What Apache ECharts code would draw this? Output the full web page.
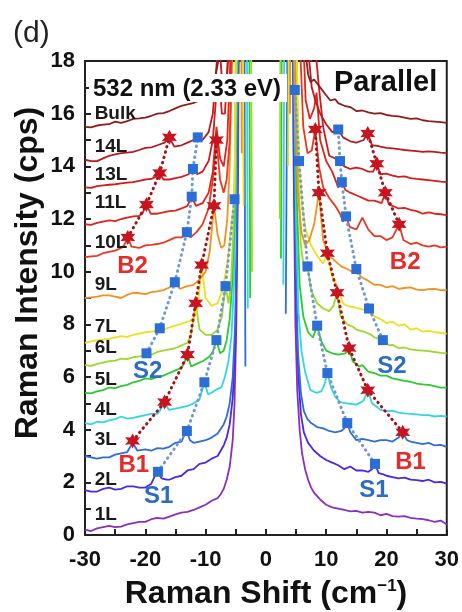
<!DOCTYPE html>
<html>
<head>
<meta charset="utf-8">
<title>Raman spectra, parallel</title>
<script src="https://cdn.jsdelivr.net/npm/echarts@6.0.0/dist/echarts.min.js"></script>
<style>
  html, body { margin: 0; padding: 0; background: #fff; }
  #chart { width: 462px; height: 612px; }
</style>
</head>
<body>
<div id="chart"></div>
<script>
// ---- data: [Raman shift (cm-1), intensity (cps)] ----
const layerNames = ['1L', '2L', '3L', '4L', '5L', '6L', '7L', '9L', '10L', '11L', '13L', '14L', 'Bulk'];
const layerLabelX = -28.4;
const layerLabelY = [0.76, 2.1, 3.6, 4.75, 5.9, 7.1, 7.9, 9.5, 11.1, 12.6, 13.67, 14.75, 16.0];

const c1L_l = [[-30,0.2],[-29,0.15],[-28,0.25],[-27,0.3],[-26,0.35],[-25,0.3],[-24,0.32],[-23,0.4],[-22,0.45],[-21,0.5],[-20,0.5],[-19,0.6],[-18,0.65],[-17,0.62],[-16,0.7],[-15,0.78],[-14,0.85],[-13,0.88],[-12,0.95],[-11,1.05],[-10,1.15],[-9,1.3],[-8,1.4],[-7.5,1.55],[-7,1.75],[-6.5,2.1],[-6,2.6],[-5.5,3.6],[-5.2,5],[-4.9,8],[-4.6,14],[-4.3,30]];
const c1L_r = [[4.3,30],[4.6,14],[4.9,8],[5.2,5.5],[5.6,4],[6,3.1],[6.5,2.5],[7,2.1],[7.5,1.8],[8,1.6],[9,1.35],[10,1.15],[11,1.05],[12,1.0],[13,0.95],[14,0.9],[15,0.92],[16,0.85],[17,0.88],[18,0.85],[19,0.75],[20,0.8],[21,0.72],[22,0.7],[23,0.72],[24,0.65],[25,0.62],[26,0.6],[27,0.56],[28,0.5],[29,0.55],[30,0.4]];

const c2L_l = [[-30,1.7],[-29,1.65],[-28,1.65],[-27,1.75],[-26,1.8],[-25,1.72],[-24,1.75],[-23,1.85],[-22,1.85],[-21,1.8],[-20,1.8],[-19,1.95],[-18.5,2.2],[-17.9,2.4],[-17.3,2.15],[-16.5,2.1],[-16,2.1],[-15,2.2],[-14,2.25],[-13,2.45],[-12,2.5],[-11,2.7],[-10,2.75],[-9,2.9],[-8,3.0],[-7,3.4],[-6.5,3.7],[-6,4.2],[-5.5,5.2],[-5.1,7],[-4.8,11],[-4.5,20],[-4.3,30]];
const c2L_r = [[4.3,30],[4.6,15],[5,9],[5.4,6],[5.8,4.6],[6.3,3.9],[7,3.5],[8,3.2],[9,3.0],[10,2.85],[11,2.75],[12,2.65],[13,2.5],[14,2.6],[15,2.45],[16,2.45],[17,2.4],[17.6,2.5],[18.1,2.7],[18.7,2.35],[19.5,2.3],[20,2.25],[21,2.2],[22,2.15],[23,2.18],[24,2.1],[25,2.08],[26,2.05],[27,2.1],[28,2.0],[29,2.02],[30,1.95]];

const c3L_l = [[-30,3.0],[-29,2.95],[-28,2.9],[-27,2.95],[-26,2.95],[-25,3.05],[-24,3.1],[-23,3.15],[-22.1,3.5],[-21.3,3.2],[-20,3.25],[-19,3.2],[-18,3.3],[-17,3.28],[-16,3.35],[-15,3.5],[-14,3.55],[-13.6,3.75],[-13.1,3.95],[-12.6,3.6],[-12,3.5],[-11,3.55],[-10,3.6],[-9,3.7],[-8,3.85],[-7,4.2],[-6.5,4.5],[-6,5.0],[-5.5,6.0],[-5.1,8],[-4.8,12],[-4.5,20],[-4.2,30],[-3.7,30],[-3.4,6.4]];
const c3L_r = [[3.3,8.4],[3.6,20],[4.0,30],[4.5,20],[4.9,11],[5.3,7],[5.8,5.4],[6.3,4.7],[6.9,4.4],[7.5,4.25],[8.5,4.1],[9.5,4.05],[10.5,3.95],[11.5,3.9],[12.5,3.95],[13,4.05],[13.5,4.25],[14,3.9],[15,3.6],[16,3.65],[17,3.6],[18,3.55],[19,3.6],[20,3.6],[21,3.55],[22,3.7],[22.7,3.9],[23.4,3.6],[24,3.55],[25,3.5],[26,3.45],[27,3.5],[28,3.4],[29,3.42],[30,3.35]];

const c4L_l = [[-30,4.25],[-29,4.2],[-28,4.3],[-27,4.28],[-26,4.35],[-25,4.4],[-24,4.5],[-23,4.42],[-22,4.45],[-21,4.5],[-20,4.55],[-19,4.6],[-18,4.6],[-17.5,4.75],[-16.8,5.05],[-16.1,4.75],[-15,4.8],[-14,4.85],[-13,4.9],[-12,5.0],[-11,5.15],[-10.7,5.4],[-10.2,5.8],[-9.6,5.35],[-9,5.4],[-8,5.55],[-7.4,5.6],[-6.8,6.0],[-6.2,6.6],[-5.7,7.6],[-5.3,9.5],[-5,13],[-4.7,20],[-4.4,30],[-3.3,30],[-3.0,8.6]];
const c4L_r = [[2.9,9.5],[3.2,30],[4.1,30],[4.6,20],[5.0,12],[5.4,8.5],[5.9,7],[6.5,6.2],[7.4,5.5],[8.3,5.4],[9.2,5.45],[9.7,5.7],[10.2,6.15],[10.8,5.6],[11.5,5.25],[12.3,5.05],[13.5,5.0],[15,4.95],[16.2,5.1],[16.9,5.5],[17.6,5.0],[18.5,4.85],[19,4.75],[20,4.7],[21,4.72],[22,4.65],[23,4.62],[24,4.6],[25,4.58],[26,4.55],[27,4.55],[28,4.5],[29,4.52],[30,4.5]];

const c5L_l = [[-30,5.4],[-29,5.38],[-28,5.45],[-27,5.5],[-26,5.6],[-25,5.58],[-24,5.65],[-23,5.7],[-22,5.8],[-21,5.85],[-20,5.95],[-19,5.92],[-18,6.0],[-17,6.05],[-16,6.15],[-15,6.25],[-14,6.35],[-13.6,6.5],[-13,6.85],[-12.4,6.4],[-11.5,6.5],[-10.5,6.6],[-9.5,6.75],[-8.8,6.95],[-8.2,7.4],[-7.6,6.9],[-7,7.0],[-6.5,7.4],[-6,8.2],[-5.6,9.5],[-5.2,12],[-4.9,16],[-4.6,30],[-2.9,30],[-2.6,9.0]];
const c5L_r = [[2.5,10.5],[2.8,30],[4.2,30],[4.7,20],[5.1,13],[5.6,9.5],[6.2,8.3],[7,7.7],[7.8,7.5],[8.5,7.95],[9.2,7.35],[10,7.0],[11,6.9],[12,6.85],[13.2,6.9],[13.8,7.1],[14.4,6.6],[15.5,6.4],[16,6.45],[17,6.2],[18,6.15],[19,6.05],[20,6.05],[21,5.95],[22,5.9],[23,5.85],[24,5.82],[25,5.75],[26,5.72],[27,5.7],[28,5.65],[29,5.6],[30,5.6]];

const c6L_l = [[-30,6.45],[-29,6.42],[-28,6.5],[-27,6.55],[-26,6.6],[-25,6.62],[-24,6.7],[-23,6.68],[-22,6.75],[-21,6.78],[-20.5,6.8],[-19.8,6.9],[-19,6.85],[-18,6.95],[-17,7.0],[-16,7.05],[-15,7.1],[-14,7.2],[-13,7.3],[-12.4,7.6],[-11.65,8.8],[-11,7.8],[-10,7.6],[-9,7.6],[-8,7.8],[-7.3,8.3],[-6.7,9.45],[-6.2,8.8],[-5.8,9.5],[-5.4,11.5],[-5.1,15],[-4.8,30],[-2.6,30],[-2.3,10]];
const c6L_r = [[2.3,12],[2.6,30],[4.3,30],[4.8,22],[5.3,14],[5.8,11],[6.4,10],[6.9,10.2],[7.5,9.3],[8.5,8.8],[9.5,8.6],[10.5,8.5],[11.2,8.7],[11.8,9.2],[12.4,8.3],[13.5,8.0],[14.5,7.9],[15,7.8],[16.5,7.7],[17.5,7.6],[18,7.5],[18.8,7.45],[19.4,7.4],[20.5,7.2],[21,7.22],[22,7.1],[23,7.12],[24,7.05],[25,7.02],[26,7.0],[27,6.98],[28,6.95],[29,6.92],[30,6.9]];

const c7L_l = [[-30,7.3],[-29,7.35],[-28,7.4],[-27,7.42],[-26,7.45],[-25,7.5],[-24,7.55],[-23,7.52],[-22,7.6],[-21,7.65],[-20,7.7],[-19,7.72],[-18.3,7.75],[-17.6,7.85],[-17,7.8],[-16,7.88],[-15,7.95],[-14,8.02],[-13,8.1],[-12,8.2],[-11.3,8.6],[-10.66,10.25],[-10,9.0],[-9,8.7],[-8,8.8],[-7.2,9.3],[-6.4,10.3],[-5.9,11.4],[-5.5,12.3],[-5.2,12.75],[-4.9,18],[-4.6,30],[-4.0,30],[-3.7,12.5]];
const c7L_r = [[3.7,14],[4.0,30],[4.5,30],[5.0,20],[5.5,14.2],[6.0,12.5],[6.7,11.5],[7.5,11.0],[8.5,10.6],[9.5,10.3],[10.2,10.7],[10.9,9.9],[12,9.3],[12.8,8.8],[13.5,8.7],[14.5,8.65],[15.5,8.6],[16.3,8.55],[17.1,8.6],[18,8.3],[19,8.2],[20,8.05],[21,8.1],[22,7.95],[23,8.0],[24,7.8],[25,7.85],[26,7.72],[27,7.75],[28,7.7],[29,7.68],[30,7.65]];

const c9L_l = [[-30,9.0],[-29,9.02],[-28,9.05],[-27,9.1],[-26,9.1],[-25,9.05],[-24,9.0],[-23,9.12],[-22,9.2],[-21,9.18],[-20,9.15],[-19,9.22],[-18,9.25],[-17,9.3],[-16,9.4],[-15.1,9.6],[-14.3,9.35],[-13,9.45],[-12,9.5],[-11,9.7],[-10,10.0],[-9.3,10.8],[-8.6,12.5],[-8,11.4],[-7.4,10.9],[-6.9,11.0],[-6.4,12.0],[-6.0,14],[-5.6,18],[-5.2,30],[-4.3,30],[-4.0,14.5]];
const c9L_r = [[4.0,16],[4.2,30],[4.5,30],[4.8,16.9],[5.3,13],[5.9,11.5],[6.5,11],[7.2,11.2],[8.0,11.8],[8.8,13.0],[9.5,11.2],[10.5,10.6],[11.5,10.4],[12.5,10.2],[13.5,10.1],[14.3,10.0],[15,10.1],[15.8,9.8],[17,9.65],[18,9.5],[19,9.5],[20,9.4],[21,9.45],[22,9.35],[23,9.38],[24,9.4],[25,9.32],[26,9.3],[27,9.34],[28,9.35],[29,9.3],[30,9.3]];

const c10L_l = [[-30,10.55],[-29,10.58],[-28,10.6],[-27,10.7],[-26,10.75],[-25,10.8],[-24,10.9],[-23.5,11.0],[-22.9,11.3],[-22.3,10.95],[-21,10.9],[-20,11.0],[-19,11.02],[-18,11.05],[-17,11.1],[-16,11.2],[-15,11.3],[-14,11.3],[-13.6,11.35],[-13.1,11.5],[-12.5,11.3],[-11.5,11.5],[-10.5,11.8],[-9.5,12.4],[-8.8,13.5],[-8.2,15.0],[-7.6,13.5],[-7.0,13.0],[-6.5,13.5],[-6,15],[-5.6,19],[-5.2,30]];
const c10L_r = [[5.2,30],[5.6,19],[6.2,15.5],[6.9,14.5],[7.6,14.6],[8.2,15.4],[8.8,14.0],[9.5,13.2],[10.5,12.8],[11.5,12.5],[12.3,12.2],[12.8,11.9],[13.3,12.1],[13.9,11.7],[15,11.6],[16,12.05],[17,11.6],[18,11.35],[19,11.35],[20,11.2],[21,11.3],[22.1,11.8],[22.8,11.2],[24,11.05],[25,11.1],[26,11.0],[27,10.95],[28,11.0],[29,10.92],[30,10.95]];

const c11L_l = [[-30,11.8],[-29,11.78],[-28,11.85],[-27,11.9],[-26,11.95],[-25,11.92],[-24,12.0],[-23,12.05],[-22,12.1],[-21,12.12],[-20.5,12.2],[-19.8,12.55],[-19.1,12.2],[-18,12.2],[-17,12.25],[-16,12.3],[-15,12.32],[-14,12.4],[-13,12.5],[-12.3,12.85],[-11.6,12.5],[-10.5,12.6],[-9.5,13.0],[-8.8,13.8],[-8.2,15.5],[-7.6,14.3],[-7.0,14.0],[-6.4,15],[-5.9,18],[-5.5,30]];
const c11L_r = [[5.5,30],[6,20],[6.6,16.5],[7.3,15.8],[8.0,16.2],[8.4,16.8],[9,15.0],[10,14.2],[11,13.8],[12,13.2],[12.6,13.4],[13.2,13.1],[14,13.0],[15,12.9],[16,12.8],[17,12.7],[18,12.7],[19.2,12.6],[19.8,13.0],[20.4,12.55],[21,12.5],[22,12.4],[23,12.42],[24,12.35],[25,12.3],[26,12.2],[27,12.25],[28,12.2],[29,12.18],[30,12.15]];

const c13L_l = [[-30,13.2],[-29,13.18],[-28,13.25],[-27,13.28],[-26,13.3],[-25,13.32],[-24,13.35],[-23,13.38],[-22,13.4],[-21,13.45],[-20,13.5],[-19,13.52],[-18.3,13.6],[-17.6,13.75],[-17,13.5],[-16,13.5],[-15,13.55],[-14,13.6],[-12.8,13.7],[-12.1,13.9],[-11.4,13.7],[-10.5,13.8],[-9.5,14.2],[-8.8,15.0],[-8.3,16.5],[-7.8,17.5],[-7.3,16.0],[-6.8,16.0],[-6.3,18],[-5.9,30]];
const c13L_r = [[5.9,30],[6.5,22],[7,19],[7.5,18],[8.2,18.5],[8.8,17],[9.5,15.5],[10.5,14.4],[11.5,14.3],[12.3,14.2],[13,14.0],[14,13.9],[15,13.95],[16,13.9],[17,13.8],[17.8,13.8],[18.4,14.1],[19,13.7],[20,13.72],[21,13.65],[22,13.6],[23,13.62],[24,13.55],[25,13.52],[26,13.5],[27,13.48],[28,13.45],[29,13.42],[30,13.4]];

const c14L_l = [[-30,14.25],[-29,14.2],[-28,14.2],[-27,14.3],[-26,14.4],[-25,14.45],[-24,14.5],[-23,14.52],[-22,14.55],[-21,14.62],[-20,14.7],[-19,14.72],[-18,14.8],[-16.8,14.9],[-16,15.1],[-15.2,14.75],[-14,14.8],[-13,14.9],[-12,15.0],[-11.3,15.1],[-10.5,15.0],[-9.5,15.3],[-8.8,16],[-8.3,17.5],[-7.8,19],[-7.2,17],[-6.6,16.8],[-6.2,18.5],[-5.9,30]];
const c14L_r = [[5.9,30],[6.4,22],[7.0,18.5],[7.6,17.0],[8.2,16.5],[9,16.0],[10,15.6],[11,15.3],[12,15.4],[12.8,15.1],[14,14.95],[15,14.9],[16.2,15.0],[16.9,15.25],[17.6,14.8],[18.5,14.78],[19,14.75],[20,14.7],[21,14.68],[22,14.65],[23,14.62],[24,14.6],[25,14.58],[26,14.55],[27,14.57],[28,14.55],[29,14.52],[30,14.5]];

const bulk_l = [[-30,15.5],[-29,15.48],[-28,15.55],[-27,15.58],[-26,15.6],[-25,15.7],[-24,15.65],[-23,15.72],[-22,15.8],[-21,15.82],[-20,15.85],[-19,15.92],[-18,16.0],[-17,16.02],[-16,16.1],[-15,16.2],[-14,16.3],[-13,16.35],[-12.1,16.4],[-11,16.5],[-10,16.7],[-9,17.0],[-8.3,17.5],[-7.5,18.5],[-6.5,30]];
const bulk_r = [[5.5,30],[6,22],[6.5,18.5],[7,17.5],[7.4,17.2],[8,17.3],[9,17.0],[10,16.7],[10.7,16.5],[11.5,16.55],[12,16.4],[13,16.3],[14,16.25],[15,16.1],[16,16.12],[17,16.05],[18,16.0],[19,16.02],[20,15.95],[21,15.92],[22,15.9],[23,15.85],[24,15.8],[25,15.82],[26,15.75],[27,15.72],[28,15.7],[29,15.68],[30,15.65]];

// mode positions (peak markers)
const b1Left  = [[-22.1,3.57],[-16.8,5.05],[-13,6.85],[-11.65,8.8],[-10.66,10.25],[-8.6,12.5],[-8.2,15.0]];
const b1Right = [[22.7,3.9],[16.9,5.5],[13.8,7.1],[11.8,9.2],[10.2,10.7],[8.8,13.0],[8.2,15.4]];
const b2Left  = [[-22.9,11.3],[-19.8,12.55],[-17.6,13.75],[-16,15.1]];
const b2Right = [[22.1,11.8],[19.8,13.0],[18.4,14.1],[16.9,15.25]];
const s1Left  = [[-17.9,2.4],[-13.1,3.95],[-10.2,5.8],[-8.2,7.4],[-6.7,9.45],[-5.2,12.75]];
const s1Right = [[18.1,2.7],[13.5,4.25],[10.2,6.15],[8.5,7.95],[6.9,10.2],[5.5,14.2],[4.8,16.9]];
const s2Left  = [[-19.8,6.9],[-17.6,7.85],[-15.1,9.6],[-13.1,11.5],[-12.3,12.85],[-12.1,13.9],[-11.3,15.1]];
const s2Right = [[19.4,7.4],[17.1,8.6],[15,10.1],[13.3,12.1],[12.6,13.4],[12.3,14.2],[12,15.4]];

const modeNames = ['B2', 'B2', 'S2', 'S2', 'B1', 'B1', 'S1', 'S1'];
const modeX = [-22.1, 23.1, -19.6, 20.9, -21.9, 24.0, -17.8, 17.9];
const modeY = [10.2, 10.35, 6.2, 6.4, 2.66, 2.77, 1.45, 1.7];

const xTicks = [-30, -20, -10, 0, 10, 20, 30];
const yTicks = [0, 2, 4, 6, 8, 10, 12, 14, 16, 18];

// ---- chart ----
const FONT = '"Liberation Sans", Arial, Helvetica, sans-serif';
const layerColors = ['#8a2ec4', '#4a28e4', '#2f6cd8', '#33d4ea', '#2bcb2b', '#9dd82a',
  '#ebe11c', '#f2911e', '#e8381e', '#e0241c', '#d01c1c', '#b81b1b', '#8e1c1c'];
const leftCurves = [c1L_l, c2L_l, c3L_l, c4L_l, c5L_l, c6L_l, c7L_l, c9L_l, c10L_l, c11L_l, c13L_l, c14L_l, bulk_l];
const rightCurves = [c1L_r, c2L_r, c3L_r, c4L_r, c5L_r, c6L_r, c7L_r, c9L_r, c10L_r, c11L_r, c13L_r, c14L_r, bulk_r];

const starPath = 'path://M0,-10 L2.6,-4.5 L8.7,-5 L5.2,0 L8.7,5 L2.6,4.5 L0,10 L-2.6,4.5 L-8.7,5 L-5.2,0 L-8.7,-5 L-2.6,-4.5 Z';

let series = [];
layerNames.forEach((name, i) => {
  [leftCurves[i], rightCurves[i]].forEach(d => {
    series.push({
      type: 'line', name: name, data: d, symbol: 'none', clip: true, silent: true, z: 2,
      lineStyle: {color: layerColors[i], width: 1.8}
    });
  });
});

function chain(d, isStar) {
  return {
    type: 'line', data: d, clip: false, silent: true, z: 5,
    symbol: isStar ? starPath : 'rect',
    symbolSize: isStar ? 15 : 10,
    itemStyle: {color: isStar ? '#c8141e' : '#2b6fd6'},
    lineStyle: {
      color: isStar ? '#a3121a' : '#6e9ad2', width: 3,
      type: [0.5, 5], cap: 'round'
    }
  };
}
series.push(chain(b1Left, true), chain(b1Right, true), chain(b2Left, true), chain(b2Right, true));
series.push(chain(s1Left, false), chain(s1Right, false), chain(s2Left, false), chain(s2Right, false));

// layer name labels
series.push({
  type: 'scatter', silent: true, z: 6, symbolSize: 0,
  itemStyle: {opacity: 1},
  data: layerLabelY.map((y, i) => [layerLabelX, y, layerNames[i]]),
  label: {
    show: true, position: 'right', distance: 0, formatter: p => p.value[2],
    fontFamily: FONT, fontSize: 19, fontWeight: 'bold', color: '#1a1a1a'
  }
});
// mode labels (B = red, S = blue)
series.push({
  type: 'scatter', silent: true, z: 6, symbolSize: 0,
  itemStyle: {opacity: 1},
  data: modeX.map((x, i) => ({
    value: [x, modeY[i], modeNames[i]],
    label: {color: modeNames[i][0] === 'B' ? '#e62a2a' : '#2d6cc4'}
  })),
  label: {
    show: true, position: 'inside', formatter: p => p.value[2],
    fontFamily: FONT, fontSize: 24, fontWeight: 'bold', textBorderWidth: 0
  }
});

const chart = echarts.init(document.getElementById('chart'), null, {renderer: 'canvas'});
chart.setOption({
  animation: false,
  backgroundColor: '#fff',
  grid: {left: 85, right: 14, top: 61, bottom: 77, show: true, borderColor: '#222', borderWidth: 2},
  xAxis: {
    type: 'value', min: xTicks[0], max: xTicks[xTicks.length - 1], interval: 10,
    axisLine: {show: true, onZero: false, lineStyle: {color: '#222', width: 2}},
    axisTick: {show: true, inside: true, length: 6, lineStyle: {color: '#222', width: 2}},
    minorTick: {show: true, splitNumber: 2, length: 6, lineStyle: {color: '#222', width: 2}},
    splitLine: {show: false},
    axisLabel: {fontFamily: FONT, fontSize: 22, fontWeight: 'bold', color: '#111', margin: 14}
  },
  yAxis: {
    type: 'value', min: yTicks[0], max: yTicks[yTicks.length - 1], interval: 2,
    axisLine: {show: true, onZero: false, lineStyle: {color: '#222', width: 2}},
    axisTick: {show: true, inside: true, length: 6, lineStyle: {color: '#222', width: 2}},
    minorTick: {show: true, splitNumber: 2, length: 6, lineStyle: {color: '#222', width: 2}},
    splitLine: {show: false},
    axisLabel: {fontFamily: FONT, fontSize: 22, fontWeight: 'bold', color: '#111', margin: 10}
  },
  series: series,
  graphic: [
    {type: 'rect', z: 50, shape: {x: 89, y: 74, width: 198, height: 28}, style: {fill: '#fff'}},
    {type: 'text', z: 51, x: 93, y: 89,
      style: {text: '532 nm (2.33 eV)', font: 'bold 24px ' + FONT, fill: '#111',
        textAlign: 'left', textVerticalAlign: 'middle'}},
    {type: 'text', z: 51, x: 334, y: 83,
      style: {text: 'Parallel', font: 'bold 29px ' + FONT, fill: '#111',
        textAlign: 'left', textVerticalAlign: 'middle'}},
    {type: 'text', z: 51, x: 13, y: 34,
      style: {text: '(d)', font: 'normal 30px ' + FONT, fill: '#222',
        textAlign: 'left', textVerticalAlign: 'middle'}},
    {type: 'text', z: 51, x: 28, y: 273, rotation: Math.PI / 2,
      style: {text: 'Raman Intensity (cps)', font: 'bold 32px ' + FONT, fill: '#111',
        textAlign: 'center', textVerticalAlign: 'middle'}},
    {type: 'text', z: 51, x: 266, y: 594,
      style: {
        text: '{a|Raman Shift (cm}{b|−1}{a|)}',
        rich: {
          a: {fontFamily: FONT, fontSize: 32, fontWeight: 'bold', fill: '#111'},
          b: {fontFamily: FONT, fontSize: 17, fontWeight: 'bold', fill: '#111', padding: [0, 0, 16, 0]}
        },
        textAlign: 'center', textVerticalAlign: 'middle'
      }}
  ]
});
</script>
</body>
</html>
